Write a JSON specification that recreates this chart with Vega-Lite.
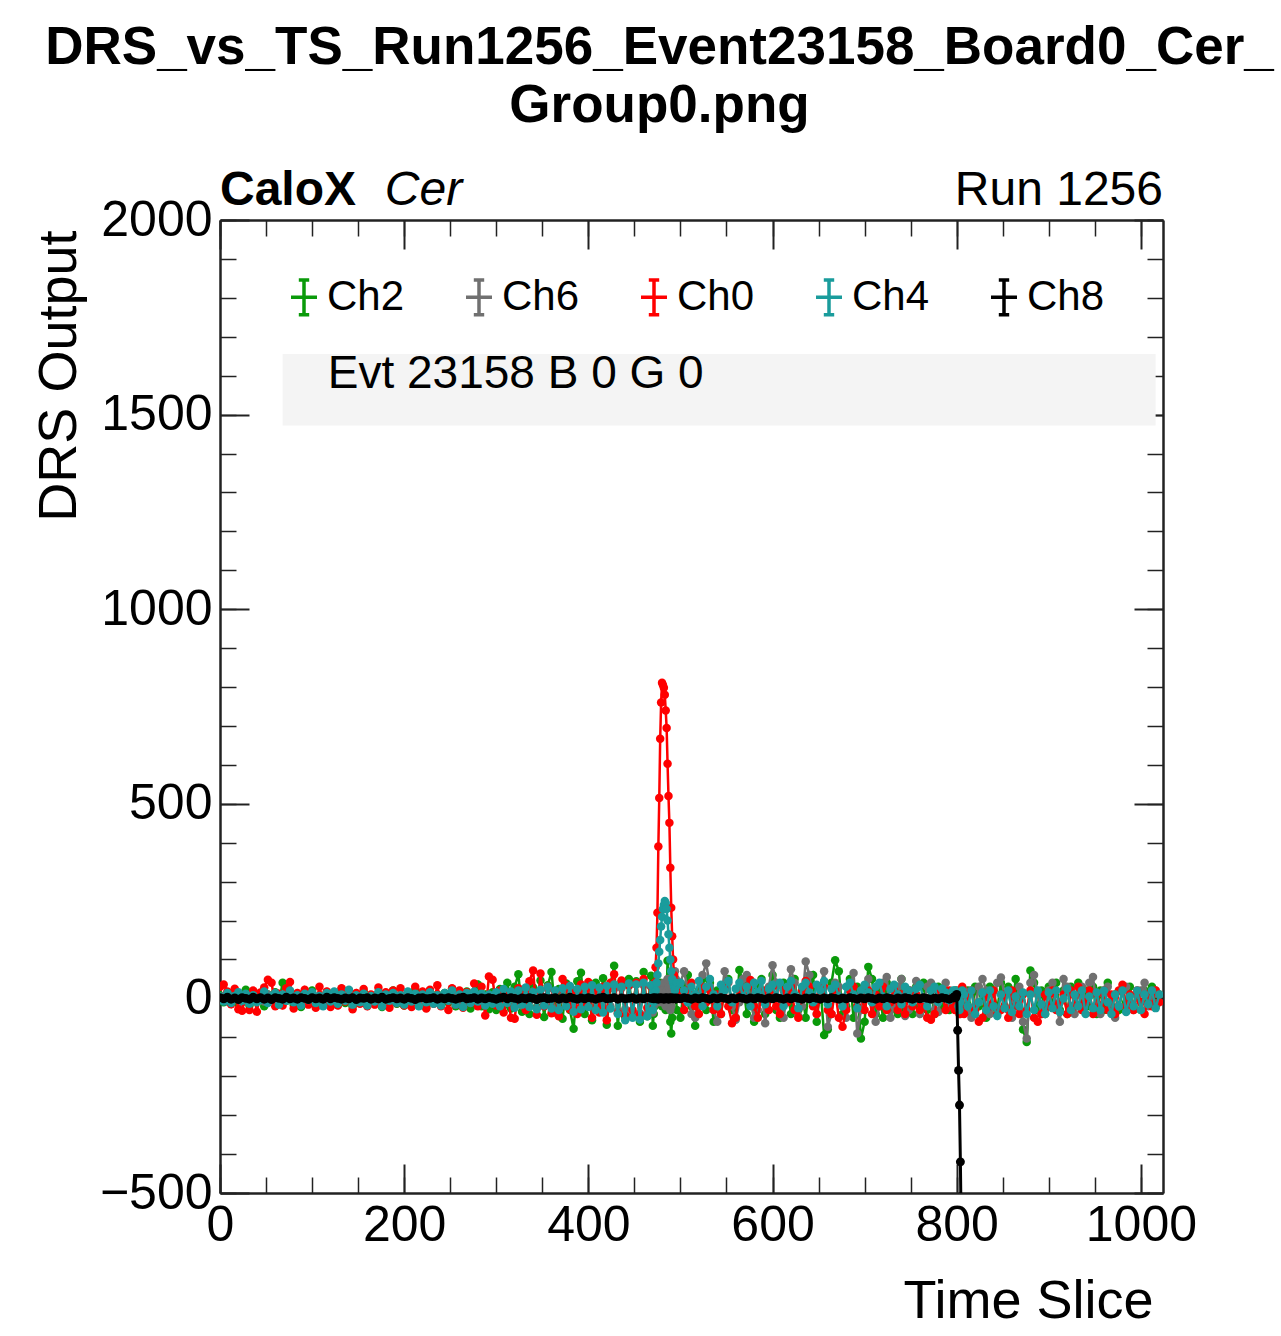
{
  "$schema": "https://vega.github.io/schema/vega-lite/v6.json",
  "autosize": {"type": "none"},
  "padding": {"left": 220, "top": 220, "right": 118, "bottom": 143},
  "width": 943,
  "height": 973,
  "background": "white",
  "config": {
    "font": "Liberation Sans",
    "view": {"stroke": null},
    "axis": {"grid": false, "labelFont": "Liberation Sans", "titleFont": "Liberation Sans", "labelColor": "black", "titleColor": "black", "tickColor": "#222", "domainColor": "#222", "labelOverlap": false, "labelFlush": false}
  },
  "title": {
    "text": ["DRS_vs_TS_Run1256_Event23158_Board0_Cer_", "Group0.png"],
    "fontSize": 53,
    "fontWeight": "bold",
    "font": "Liberation Sans",
    "color": "black",
    "anchor": "middle",
    "frame": "group",
    "lineHeight": 58,
    "dx": -32,
    "offset": 34
  },
  "datasets": {
    "wave": [
      {"t":0,"Ch2":8,"Ch6":-4,"Ch0":30,"Ch4":5,"Ch8":2},
      {"t":4,"Ch2":-10,"Ch6":6,"Ch0":36,"Ch4":-8,"Ch8":-1},
      {"t":8,"Ch2":12,"Ch6":-8,"Ch0":18,"Ch4":14,"Ch8":3},
      {"t":12,"Ch2":-6,"Ch6":10,"Ch0":-15,"Ch4":-12,"Ch8":-2},
      {"t":16,"Ch2":18,"Ch6":-2,"Ch0":25,"Ch4":6,"Ch8":1},
      {"t":20,"Ch2":-14,"Ch6":4,"Ch0":-28,"Ch4":16,"Ch8":-3},
      {"t":24,"Ch2":6,"Ch6":-10,"Ch0":-32,"Ch4":-6,"Ch8":2},
      {"t":28,"Ch2":22,"Ch6":8,"Ch0":10,"Ch4":12,"Ch8":0},
      {"t":32,"Ch2":-18,"Ch6":-6,"Ch0":-30,"Ch4":-14,"Ch8":-2},
      {"t":36,"Ch2":4,"Ch6":12,"Ch0":20,"Ch4":8,"Ch8":3},
      {"t":40,"Ch2":-8,"Ch6":-4,"Ch0":-34,"Ch4":-10,"Ch8":-1},
      {"t":44,"Ch2":14,"Ch6":6,"Ch0":15,"Ch4":-4,"Ch8":2},
      {"t":48,"Ch2":-20,"Ch6":-8,"Ch0":28,"Ch4":18,"Ch8":-2},
      {"t":52,"Ch2":10,"Ch6":10,"Ch0":48,"Ch4":-12,"Ch8":1},
      {"t":56,"Ch2":-4,"Ch6":-2,"Ch0":40,"Ch4":6,"Ch8":-3},
      {"t":60,"Ch2":16,"Ch6":4,"Ch0":-20,"Ch4":14,"Ch8":2},
      {"t":64,"Ch2":-12,"Ch6":-12,"Ch0":12,"Ch4":-16,"Ch8":0},
      {"t":68,"Ch2":40,"Ch6":8,"Ch0":-18,"Ch4":10,"Ch8":-2},
      {"t":72,"Ch2":-6,"Ch6":-6,"Ch0":26,"Ch4":-6,"Ch8":3},
      {"t":76,"Ch2":10,"Ch6":14,"Ch0":42,"Ch4":20,"Ch8":-1},
      {"t":80,"Ch2":-16,"Ch6":-4,"Ch0":-26,"Ch4":-10,"Ch8":1},
      {"t":84,"Ch2":6,"Ch6":6,"Ch0":14,"Ch4":8,"Ch8":-2},
      {"t":88,"Ch2":-22,"Ch6":-8,"Ch0":-12,"Ch4":-18,"Ch8":2},
      {"t":92,"Ch2":12,"Ch6":10,"Ch0":22,"Ch4":12,"Ch8":0},
      {"t":96,"Ch2":-8,"Ch6":-2,"Ch0":-16,"Ch4":-4,"Ch8":-3},
      {"t":100,"Ch2":20,"Ch6":6,"Ch0":8,"Ch4":16,"Ch8":2},
      {"t":104,"Ch2":-14,"Ch6":-10,"Ch0":-24,"Ch4":-12,"Ch8":-1},
      {"t":108,"Ch2":4,"Ch6":8,"Ch0":30,"Ch4":6,"Ch8":1},
      {"t":112,"Ch2":-10,"Ch6":-4,"Ch0":-10,"Ch4":-20,"Ch8":-2},
      {"t":116,"Ch2":16,"Ch6":12,"Ch0":18,"Ch4":14,"Ch8":3},
      {"t":120,"Ch2":-18,"Ch6":-6,"Ch0":-22,"Ch4":-8,"Ch8":-1},
      {"t":124,"Ch2":8,"Ch6":4,"Ch0":12,"Ch4":18,"Ch8":2},
      {"t":128,"Ch2":-6,"Ch6":-12,"Ch0":-18,"Ch4":-14,"Ch8":0},
      {"t":132,"Ch2":24,"Ch6":10,"Ch0":26,"Ch4":10,"Ch8":-2},
      {"t":136,"Ch2":-12,"Ch6":-2,"Ch0":-8,"Ch4":-6,"Ch8":1},
      {"t":140,"Ch2":6,"Ch6":6,"Ch0":20,"Ch4":22,"Ch8":-1},
      {"t":144,"Ch2":-20,"Ch6":-8,"Ch0":-28,"Ch4":-16,"Ch8":2},
      {"t":148,"Ch2":10,"Ch6":12,"Ch0":14,"Ch4":8,"Ch8":-3},
      {"t":152,"Ch2":-4,"Ch6":-4,"Ch0":-14,"Ch4":-10,"Ch8":1},
      {"t":156,"Ch2":18,"Ch6":8,"Ch0":24,"Ch4":12,"Ch8":0},
      {"t":160,"Ch2":-16,"Ch6":-10,"Ch0":-20,"Ch4":-18,"Ch8":2},
      {"t":164,"Ch2":8,"Ch6":4,"Ch0":10,"Ch4":6,"Ch8":-2},
      {"t":168,"Ch2":-10,"Ch6":-6,"Ch0":-16,"Ch4":-8,"Ch8":1},
      {"t":172,"Ch2":14,"Ch6":10,"Ch0":28,"Ch4":16,"Ch8":-1},
      {"t":176,"Ch2":-22,"Ch6":-2,"Ch0":-10,"Ch4":-20,"Ch8":3},
      {"t":180,"Ch2":6,"Ch6":8,"Ch0":16,"Ch4":10,"Ch8":-2},
      {"t":184,"Ch2":-8,"Ch6":-12,"Ch0":-24,"Ch4":-6,"Ch8":0},
      {"t":188,"Ch2":20,"Ch6":6,"Ch0":20,"Ch4":14,"Ch8":2},
      {"t":192,"Ch2":-14,"Ch6":-4,"Ch0":-12,"Ch4":-12,"Ch8":-1},
      {"t":196,"Ch2":4,"Ch6":10,"Ch0":26,"Ch4":8,"Ch8":1},
      {"t":200,"Ch2":-18,"Ch6":-8,"Ch0":-18,"Ch4":-16,"Ch8":-2},
      {"t":204,"Ch2":12,"Ch6":4,"Ch0":14,"Ch4":18,"Ch8":2},
      {"t":208,"Ch2":-6,"Ch6":-6,"Ch0":-22,"Ch4":-8,"Ch8":0},
      {"t":212,"Ch2":22,"Ch6":12,"Ch0":30,"Ch4":12,"Ch8":-3},
      {"t":216,"Ch2":-12,"Ch6":-10,"Ch0":-8,"Ch4":-20,"Ch8":1},
      {"t":220,"Ch2":8,"Ch6":6,"Ch0":18,"Ch4":10,"Ch8":2},
      {"t":224,"Ch2":-24,"Ch6":-2,"Ch0":-26,"Ch4":-10,"Ch8":-1},
      {"t":228,"Ch2":16,"Ch6":10,"Ch0":22,"Ch4":16,"Ch8":0},
      {"t":232,"Ch2":-8,"Ch6":-12,"Ch0":-14,"Ch4":-14,"Ch8":2},
      {"t":236,"Ch2":10,"Ch6":4,"Ch0":34,"Ch4":8,"Ch8":-2},
      {"t":240,"Ch2":-18,"Ch6":-6,"Ch0":-20,"Ch4":-18,"Ch8":1},
      {"t":244,"Ch2":14,"Ch6":8,"Ch0":12,"Ch4":14,"Ch8":-1},
      {"t":248,"Ch2":-10,"Ch6":-4,"Ch0":-30,"Ch4":-6,"Ch8":2},
      {"t":252,"Ch2":24,"Ch6":12,"Ch0":26,"Ch4":20,"Ch8":0},
      {"t":256,"Ch2":-20,"Ch6":-8,"Ch0":-16,"Ch4":-16,"Ch8":-2},
      {"t":260,"Ch2":6,"Ch6":6,"Ch0":20,"Ch4":10,"Ch8":1},
      {"t":264,"Ch2":-14,"Ch6":-10,"Ch0":-24,"Ch4":-22,"Ch8":3},
      {"t":268,"Ch2":18,"Ch6":4,"Ch0":16,"Ch4":14,"Ch8":-1},
      {"t":272,"Ch2":-26,"Ch6":-6,"Ch0":-12,"Ch4":-12,"Ch8":0},
      {"t":276,"Ch2":12,"Ch6":10,"Ch0":38,"Ch4":18,"Ch8":2},
      {"t":280,"Ch2":36,"Ch6":-8,"Ch0":-20,"Ch4":-8,"Ch8":-2},
      {"t":284,"Ch2":-20,"Ch6":6,"Ch0":30,"Ch4":12,"Ch8":1},
      {"t":288,"Ch2":10,"Ch6":-12,"Ch0":-44,"Ch4":-18,"Ch8":-1},
      {"t":292,"Ch2":-28,"Ch6":8,"Ch0":56,"Ch4":10,"Ch8":2},
      {"t":296,"Ch2":16,"Ch6":-4,"Ch0":48,"Ch4":-14,"Ch8":0},
      {"t":300,"Ch2":-30,"Ch6":12,"Ch0":-18,"Ch4":16,"Ch8":-2},
      {"t":304,"Ch2":24,"Ch6":-14,"Ch0":20,"Ch4":-20,"Ch8":1},
      {"t":308,"Ch2":-18,"Ch6":20,"Ch0":-36,"Ch4":24,"Ch8":3},
      {"t":312,"Ch2":40,"Ch6":-10,"Ch0":14,"Ch4":-12,"Ch8":-1},
      {"t":316,"Ch2":-26,"Ch6":16,"Ch0":-50,"Ch4":18,"Ch8":2},
      {"t":320,"Ch2":30,"Ch6":-20,"Ch0":-52,"Ch4":-24,"Ch8":0},
      {"t":324,"Ch2":62,"Ch6":14,"Ch0":26,"Ch4":20,"Ch8":-2},
      {"t":328,"Ch2":-34,"Ch6":-18,"Ch0":10,"Ch4":-16,"Ch8":1},
      {"t":332,"Ch2":20,"Ch6":22,"Ch0":-30,"Ch4":28,"Ch8":-1},
      {"t":336,"Ch2":-40,"Ch6":-8,"Ch0":44,"Ch4":-22,"Ch8":2},
      {"t":340,"Ch2":28,"Ch6":18,"Ch0":72,"Ch4":16,"Ch8":0},
      {"t":344,"Ch2":-22,"Ch6":-24,"Ch0":-42,"Ch4":-28,"Ch8":-3},
      {"t":348,"Ch2":46,"Ch6":10,"Ch0":64,"Ch4":22,"Ch8":1},
      {"t":352,"Ch2":-48,"Ch6":-14,"Ch0":-20,"Ch4":-18,"Ch8":2},
      {"t":356,"Ch2":34,"Ch6":24,"Ch0":30,"Ch4":30,"Ch8":-1},
      {"t":360,"Ch2":68,"Ch6":-20,"Ch0":-38,"Ch4":-26,"Ch8":0},
      {"t":364,"Ch2":-36,"Ch6":16,"Ch0":18,"Ch4":20,"Ch8":2},
      {"t":368,"Ch2":24,"Ch6":-28,"Ch0":-46,"Ch4":-30,"Ch8":-2},
      {"t":372,"Ch2":-52,"Ch6":20,"Ch0":50,"Ch4":26,"Ch8":1},
      {"t":376,"Ch2":38,"Ch6":-10,"Ch0":34,"Ch4":-20,"Ch8":-1},
      {"t":380,"Ch2":-30,"Ch6":26,"Ch0":-28,"Ch4":32,"Ch8":3},
      {"t":384,"Ch2":-78,"Ch6":-22,"Ch0":20,"Ch4":-34,"Ch8":0},
      {"t":388,"Ch2":44,"Ch6":14,"Ch0":-40,"Ch4":24,"Ch8":-2},
      {"t":392,"Ch2":66,"Ch6":-26,"Ch0":36,"Ch4":-28,"Ch8":1},
      {"t":396,"Ch2":-40,"Ch6":22,"Ch0":-18,"Ch4":30,"Ch8":-1},
      {"t":400,"Ch2":30,"Ch6":-16,"Ch0":42,"Ch4":-22,"Ch8":2},
      {"t":404,"Ch2":-56,"Ch6":28,"Ch0":-50,"Ch4":34,"Ch8":0},
      {"t":408,"Ch2":40,"Ch6":-30,"Ch0":24,"Ch4":-30,"Ch8":-2},
      {"t":412,"Ch2":-34,"Ch6":18,"Ch0":-36,"Ch4":28,"Ch8":1},
      {"t":416,"Ch2":52,"Ch6":-24,"Ch0":30,"Ch4":-36,"Ch8":3},
      {"t":420,"Ch2":-68,"Ch6":30,"Ch0":-56,"Ch4":32,"Ch8":-1},
      {"t":424,"Ch2":36,"Ch6":-20,"Ch0":40,"Ch4":-26,"Ch8":0},
      {"t":428,"Ch2":84,"Ch6":24,"Ch0":62,"Ch4":36,"Ch8":2},
      {"t":432,"Ch2":-70,"Ch6":-32,"Ch0":-38,"Ch4":-40,"Ch8":-2},
      {"t":436,"Ch2":42,"Ch6":26,"Ch0":46,"Ch4":30,"Ch8":1},
      {"t":440,"Ch2":-48,"Ch6":-28,"Ch0":-44,"Ch4":-56,"Ch8":-1},
      {"t":444,"Ch2":50,"Ch6":32,"Ch0":34,"Ch4":38,"Ch8":0},
      {"t":448,"Ch2":-38,"Ch6":-34,"Ch0":-30,"Ch4":-50,"Ch8":2},
      {"t":452,"Ch2":44,"Ch6":36,"Ch0":40,"Ch4":36,"Ch8":-2},
      {"t":456,"Ch2":-60,"Ch6":-38,"Ch0":-42,"Ch4":-54,"Ch8":1},
      {"t":460,"Ch2":68,"Ch6":34,"Ch0":50,"Ch4":40,"Ch8":-1},
      {"t":464,"Ch2":-46,"Ch6":-40,"Ch0":-24,"Ch4":-46,"Ch8":2},
      {"t":468,"Ch2":58,"Ch6":30,"Ch0":32,"Ch4":34,"Ch8":0},
      {"t":470,"Ch2":-70,"Ch6":-36,"Ch0":20,"Ch4":-30,"Ch8":1},
      {"t":471,"Ch2":-40,"Ch6":-20,"Ch0":25,"Ch4":-10,"Ch8":-1},
      {"t":472,"Ch2":-20,"Ch6":10,"Ch0":40,"Ch4":10,"Ch8":2},
      {"t":473,"Ch2":10,"Ch6":30,"Ch0":80,"Ch4":20,"Ch8":0},
      {"t":474,"Ch2":30,"Ch6":40,"Ch0":130,"Ch4":40,"Ch8":-1},
      {"t":475,"Ch2":20,"Ch6":20,"Ch0":220,"Ch4":60,"Ch8":1},
      {"t":476,"Ch2":-10,"Ch6":-10,"Ch0":390,"Ch4":90,"Ch8":-2},
      {"t":477,"Ch2":20,"Ch6":10,"Ch0":515,"Ch4":120,"Ch8":0},
      {"t":478,"Ch2":40,"Ch6":30,"Ch0":667,"Ch4":150,"Ch8":2},
      {"t":479,"Ch2":10,"Ch6":20,"Ch0":760,"Ch4":185,"Ch8":-1},
      {"t":480,"Ch2":-20,"Ch6":-10,"Ch0":811,"Ch4":210,"Ch8":1},
      {"t":481,"Ch2":10,"Ch6":20,"Ch0":805,"Ch4":230,"Ch8":0},
      {"t":482,"Ch2":30,"Ch6":40,"Ch0":798,"Ch4":240,"Ch8":-2},
      {"t":483,"Ch2":20,"Ch6":10,"Ch0":780,"Ch4":250,"Ch8":1},
      {"t":484,"Ch2":-30,"Ch6":-20,"Ch0":740,"Ch4":245,"Ch8":-1},
      {"t":485,"Ch2":10,"Ch6":20,"Ch0":695,"Ch4":230,"Ch8":2},
      {"t":486,"Ch2":97,"Ch6":50,"Ch0":603,"Ch4":200,"Ch8":0},
      {"t":487,"Ch2":40,"Ch6":30,"Ch0":520,"Ch4":165,"Ch8":-2},
      {"t":488,"Ch2":-20,"Ch6":10,"Ch0":451,"Ch4":130,"Ch8":1},
      {"t":489,"Ch2":-60,"Ch6":-30,"Ch0":336,"Ch4":100,"Ch8":-1},
      {"t":490,"Ch2":-90,"Ch6":-20,"Ch0":233,"Ch4":70,"Ch8":2},
      {"t":491,"Ch2":-50,"Ch6":10,"Ch0":160,"Ch4":50,"Ch8":0},
      {"t":492,"Ch2":20,"Ch6":40,"Ch0":100,"Ch4":40,"Ch8":-1},
      {"t":493,"Ch2":60,"Ch6":60,"Ch0":60,"Ch4":30,"Ch8":1},
      {"t":494,"Ch2":40,"Ch6":70,"Ch0":45,"Ch4":20,"Ch8":0},
      {"t":495,"Ch2":10,"Ch6":50,"Ch0":30,"Ch4":30,"Ch8":-2},
      {"t":496,"Ch2":-30,"Ch6":20,"Ch0":20,"Ch4":40,"Ch8":1},
      {"t":500,"Ch2":-50,"Ch6":40,"Ch0":10,"Ch4":40,"Ch8":-1},
      {"t":504,"Ch2":30,"Ch6":70,"Ch0":-30,"Ch4":20,"Ch8":2},
      {"t":508,"Ch2":60,"Ch6":20,"Ch0":20,"Ch4":-10,"Ch8":0},
      {"t":512,"Ch2":-20,"Ch6":-40,"Ch0":40,"Ch4":30,"Ch8":-2},
      {"t":516,"Ch2":-70,"Ch6":-50,"Ch0":-20,"Ch4":10,"Ch8":1},
      {"t":520,"Ch2":20,"Ch6":10,"Ch0":-40,"Ch4":45,"Ch8":-1},
      {"t":524,"Ch2":50,"Ch6":60,"Ch0":30,"Ch4":-20,"Ch8":2},
      {"t":528,"Ch2":-30,"Ch6":90,"Ch0":-10,"Ch4":30,"Ch8":0},
      {"t":532,"Ch2":40,"Ch6":30,"Ch0":20,"Ch4":50,"Ch8":-2},
      {"t":536,"Ch2":-60,"Ch6":-30,"Ch0":-30,"Ch4":10,"Ch8":1},
      {"t":540,"Ch2":20,"Ch6":-60,"Ch0":10,"Ch4":-20,"Ch8":-1},
      {"t":544,"Ch2":-40,"Ch6":0,"Ch0":-40,"Ch4":35,"Ch8":2},
      {"t":548,"Ch2":30,"Ch6":70,"Ch0":30,"Ch4":20,"Ch8":0},
      {"t":552,"Ch2":50,"Ch6":40,"Ch0":-20,"Ch4":45,"Ch8":-2},
      {"t":556,"Ch2":-30,"Ch6":-20,"Ch0":-64,"Ch4":-10,"Ch8":1},
      {"t":560,"Ch2":-50,"Ch6":-55,"Ch0":-50,"Ch4":25,"Ch8":-1},
      {"t":564,"Ch2":73,"Ch6":-10,"Ch0":20,"Ch4":40,"Ch8":2},
      {"t":568,"Ch2":40,"Ch6":50,"Ch0":10,"Ch4":5,"Ch8":0},
      {"t":572,"Ch2":-40,"Ch6":60,"Ch0":30,"Ch4":30,"Ch8":-2},
      {"t":576,"Ch2":20,"Ch6":0,"Ch0":47,"Ch4":-20,"Ch8":1},
      {"t":580,"Ch2":-60,"Ch6":-50,"Ch0":-20,"Ch4":40,"Ch8":-1},
      {"t":584,"Ch2":30,"Ch6":-30,"Ch0":-50,"Ch4":15,"Ch8":2},
      {"t":588,"Ch2":50,"Ch6":20,"Ch0":10,"Ch4":45,"Ch8":0},
      {"t":592,"Ch2":-40,"Ch6":-64,"Ch0":20,"Ch4":-15,"Ch8":-2},
      {"t":596,"Ch2":20,"Ch6":30,"Ch0":-30,"Ch4":25,"Ch8":1},
      {"t":600,"Ch2":60,"Ch6":85,"Ch0":30,"Ch4":35,"Ch8":-1},
      {"t":604,"Ch2":-30,"Ch6":40,"Ch0":-20,"Ch4":5,"Ch8":2},
      {"t":608,"Ch2":-50,"Ch6":-30,"Ch0":-40,"Ch4":40,"Ch8":0},
      {"t":612,"Ch2":40,"Ch6":-50,"Ch0":20,"Ch4":-20,"Ch8":-2},
      {"t":616,"Ch2":30,"Ch6":20,"Ch0":-10,"Ch4":30,"Ch8":1},
      {"t":620,"Ch2":-40,"Ch6":75,"Ch0":30,"Ch4":45,"Ch8":-1},
      {"t":624,"Ch2":50,"Ch6":40,"Ch0":-30,"Ch4":10,"Ch8":2},
      {"t":628,"Ch2":-30,"Ch6":-45,"Ch0":-50,"Ch4":-25,"Ch8":0},
      {"t":632,"Ch2":20,"Ch6":-20,"Ch0":20,"Ch4":30,"Ch8":-2},
      {"t":636,"Ch2":-50,"Ch6":95,"Ch0":45,"Ch4":40,"Ch8":1},
      {"t":640,"Ch2":40,"Ch6":60,"Ch0":30,"Ch4":15,"Ch8":-1},
      {"t":644,"Ch2":60,"Ch6":-10,"Ch0":-20,"Ch4":-10,"Ch8":2},
      {"t":648,"Ch2":-60,"Ch6":-40,"Ch0":-40,"Ch4":35,"Ch8":0},
      {"t":652,"Ch2":30,"Ch6":30,"Ch0":10,"Ch4":20,"Ch8":-2},
      {"t":656,"Ch2":-94,"Ch6":70,"Ch0":30,"Ch4":45,"Ch8":1},
      {"t":660,"Ch2":-80,"Ch6":-73,"Ch0":-30,"Ch4":-15,"Ch8":-1},
      {"t":664,"Ch2":40,"Ch6":-40,"Ch0":-40,"Ch4":25,"Ch8":2},
      {"t":668,"Ch2":98,"Ch6":40,"Ch0":20,"Ch4":35,"Ch8":0},
      {"t":672,"Ch2":70,"Ch6":30,"Ch0":-50,"Ch4":5,"Ch8":-2},
      {"t":676,"Ch2":-40,"Ch6":-20,"Ch0":-73,"Ch4":-20,"Ch8":1},
      {"t":680,"Ch2":-20,"Ch6":-50,"Ch0":-30,"Ch4":30,"Ch8":-1},
      {"t":684,"Ch2":50,"Ch6":20,"Ch0":20,"Ch4":40,"Ch8":2},
      {"t":688,"Ch2":-50,"Ch6":65,"Ch0":30,"Ch4":10,"Ch8":0},
      {"t":692,"Ch2":30,"Ch6":-90,"Ch0":-20,"Ch4":-25,"Ch8":-2},
      {"t":696,"Ch2":-103,"Ch6":-30,"Ch0":10,"Ch4":20,"Ch8":1},
      {"t":700,"Ch2":-60,"Ch6":30,"Ch0":-30,"Ch4":35,"Ch8":-1},
      {"t":704,"Ch2":81,"Ch6":50,"Ch0":20,"Ch4":15,"Ch8":2},
      {"t":708,"Ch2":50,"Ch6":-10,"Ch0":-40,"Ch4":-10,"Ch8":0},
      {"t":712,"Ch2":-40,"Ch6":-60,"Ch0":10,"Ch4":30,"Ch8":-2},
      {"t":716,"Ch2":20,"Ch6":-20,"Ch0":-20,"Ch4":40,"Ch8":1},
      {"t":720,"Ch2":-50,"Ch6":40,"Ch0":30,"Ch4":5,"Ch8":-1},
      {"t":724,"Ch2":40,"Ch6":55,"Ch0":-30,"Ch4":-20,"Ch8":2},
      {"t":728,"Ch2":-30,"Ch6":-50,"Ch0":-10,"Ch4":25,"Ch8":0},
      {"t":732,"Ch2":30,"Ch6":-20,"Ch0":20,"Ch4":35,"Ch8":-2},
      {"t":736,"Ch2":-40,"Ch6":30,"Ch0":-30,"Ch4":10,"Ch8":1},
      {"t":740,"Ch2":50,"Ch6":50,"Ch0":10,"Ch4":-15,"Ch8":-1},
      {"t":744,"Ch2":-30,"Ch6":-45,"Ch0":-40,"Ch4":30,"Ch8":2},
      {"t":748,"Ch2":20,"Ch6":-30,"Ch0":20,"Ch4":20,"Ch8":0},
      {"t":752,"Ch2":-40,"Ch6":20,"Ch0":-20,"Ch4":-10,"Ch8":-2},
      {"t":756,"Ch2":30,"Ch6":45,"Ch0":10,"Ch4":25,"Ch8":1},
      {"t":760,"Ch2":-20,"Ch6":-40,"Ch0":-30,"Ch4":35,"Ch8":-1},
      {"t":764,"Ch2":40,"Ch6":-20,"Ch0":-10,"Ch4":0,"Ch8":2},
      {"t":768,"Ch2":-30,"Ch6":30,"Ch0":-50,"Ch4":-20,"Ch8":0},
      {"t":772,"Ch2":20,"Ch6":40,"Ch0":-55,"Ch4":20,"Ch8":-2},
      {"t":776,"Ch2":-40,"Ch6":-30,"Ch0":-40,"Ch4":30,"Ch8":1},
      {"t":780,"Ch2":30,"Ch6":-35,"Ch0":20,"Ch4":-10,"Ch8":-1},
      {"t":784,"Ch2":-20,"Ch6":20,"Ch0":10,"Ch4":25,"Ch8":2},
      {"t":788,"Ch2":20,"Ch6":40,"Ch0":-30,"Ch4":15,"Ch8":0},
      {"t":792,"Ch2":-30,"Ch6":-20,"Ch0":20,"Ch4":-5,"Ch8":-2},
      {"t":796,"Ch2":10,"Ch6":-10,"Ch0":-20,"Ch4":20,"Ch8":1},
      {"t":797,"Ch2":-10,"Ch6":-20,"Ch0":-10,"Ch4":10,"Ch8":3},
      {"t":798,"Ch2":10,"Ch6":0,"Ch0":-30,"Ch4":20,"Ch8":5},
      {"t":799,"Ch2":20,"Ch6":10,"Ch0":-20,"Ch4":5,"Ch8":2},
      {"t":800,"Ch2":0,"Ch6":20,"Ch0":-10,"Ch4":10,"Ch8":10},
      {"t":801,"Ch2":-20,"Ch6":10,"Ch0":10,"Ch4":0,"Ch8":-82},
      {"t":802,"Ch2":-30,"Ch6":-10,"Ch0":-20,"Ch4":-20,"Ch8":-185},
      {"t":803,"Ch2":-10,"Ch6":-30,"Ch0":-40,"Ch4":-30,"Ch8":-274},
      {"t":804,"Ch2":20,"Ch6":-40,"Ch0":-20,"Ch4":-10,"Ch8":-420},
      {"t":805,"Ch2":10,"Ch6":-30,"Ch0":10,"Ch4":10,"Ch8":-620},
      {"t":806,"Ch2":-20,"Ch6":10,"Ch0":30,"Ch4":20,"Ch8":-900},
      {"t":808,"Ch2":-30,"Ch6":20,"Ch0":-40,"Ch4":10,"Ch8":-1000},
      {"t":812,"Ch2":20,"Ch6":-30,"Ch0":10,"Ch4":-20,"Ch8":-1000},
      {"t":816,"Ch2":-40,"Ch6":-50,"Ch0":20,"Ch4":20,"Ch8":-1000},
      {"t":820,"Ch2":30,"Ch6":-20,"Ch0":-30,"Ch4":-40,"Ch8":-1000},
      {"t":824,"Ch2":-20,"Ch6":30,"Ch0":-60,"Ch4":-10,"Ch8":-1000},
      {"t":828,"Ch2":10,"Ch6":50,"Ch0":-50,"Ch4":15,"Ch8":-1000},
      {"t":832,"Ch2":-50,"Ch6":20,"Ch0":10,"Ch4":-30,"Ch8":-1000},
      {"t":836,"Ch2":30,"Ch6":-40,"Ch0":-20,"Ch4":20,"Ch8":-1000},
      {"t":840,"Ch2":20,"Ch6":-20,"Ch0":20,"Ch4":-20,"Ch8":-1000},
      {"t":844,"Ch2":-30,"Ch6":40,"Ch0":-40,"Ch4":-45,"Ch8":-1000},
      {"t":848,"Ch2":40,"Ch6":54,"Ch0":-30,"Ch4":10,"Ch8":-1000},
      {"t":852,"Ch2":-20,"Ch6":10,"Ch0":10,"Ch4":-25,"Ch8":-1000},
      {"t":856,"Ch2":30,"Ch6":-30,"Ch0":-50,"Ch4":20,"Ch8":-1000},
      {"t":860,"Ch2":-40,"Ch6":-50,"Ch0":20,"Ch4":-35,"Ch8":-1000},
      {"t":864,"Ch2":50,"Ch6":-10,"Ch0":-20,"Ch4":5,"Ch8":-1000},
      {"t":868,"Ch2":20,"Ch6":30,"Ch0":-40,"Ch4":-20,"Ch8":-1000},
      {"t":872,"Ch2":-80,"Ch6":-60,"Ch0":10,"Ch4":15,"Ch8":-1000},
      {"t":876,"Ch2":-112,"Ch6":-103,"Ch0":-30,"Ch4":-40,"Ch8":-1000},
      {"t":880,"Ch2":72,"Ch6":40,"Ch0":20,"Ch4":10,"Ch8":-1000},
      {"t":884,"Ch2":40,"Ch6":60,"Ch0":-50,"Ch4":-30,"Ch8":-1000},
      {"t":888,"Ch2":-30,"Ch6":10,"Ch0":-60,"Ch4":20,"Ch8":-1000},
      {"t":892,"Ch2":20,"Ch6":-40,"Ch0":-40,"Ch4":-15,"Ch8":-1000},
      {"t":896,"Ch2":-40,"Ch6":-30,"Ch0":10,"Ch4":-40,"Ch8":-1000},
      {"t":900,"Ch2":30,"Ch6":20,"Ch0":-20,"Ch4":15,"Ch8":-1000},
      {"t":904,"Ch2":-20,"Ch6":40,"Ch0":20,"Ch4":-25,"Ch8":-1000},
      {"t":908,"Ch2":40,"Ch6":-20,"Ch0":-30,"Ch4":20,"Ch8":-1000},
      {"t":912,"Ch2":-30,"Ch6":-60,"Ch0":-10,"Ch4":-35,"Ch8":-1000},
      {"t":916,"Ch2":20,"Ch6":50,"Ch0":10,"Ch4":0,"Ch8":-1000},
      {"t":920,"Ch2":-40,"Ch6":30,"Ch0":-40,"Ch4":25,"Ch8":-1000},
      {"t":924,"Ch2":30,"Ch6":-20,"Ch0":20,"Ch4":-30,"Ch8":-1000},
      {"t":928,"Ch2":-20,"Ch6":-40,"Ch0":-20,"Ch4":10,"Ch8":-1000},
      {"t":932,"Ch2":40,"Ch6":10,"Ch0":30,"Ch4":-20,"Ch8":-1000},
      {"t":936,"Ch2":-30,"Ch6":30,"Ch0":-30,"Ch4":20,"Ch8":-1000},
      {"t":940,"Ch2":20,"Ch6":-10,"Ch0":-10,"Ch4":-40,"Ch8":-1000},
      {"t":944,"Ch2":-20,"Ch6":40,"Ch0":20,"Ch4":5,"Ch8":-1000},
      {"t":948,"Ch2":30,"Ch6":55,"Ch0":-40,"Ch4":-25,"Ch8":-1000},
      {"t":952,"Ch2":-40,"Ch6":-20,"Ch0":10,"Ch4":15,"Ch8":-1000},
      {"t":956,"Ch2":20,"Ch6":-40,"Ch0":-20,"Ch4":-30,"Ch8":-1000},
      {"t":960,"Ch2":-30,"Ch6":10,"Ch0":20,"Ch4":20,"Ch8":-1000},
      {"t":964,"Ch2":40,"Ch6":30,"Ch0":-30,"Ch4":-10,"Ch8":-1000},
      {"t":968,"Ch2":-20,"Ch6":-30,"Ch0":10,"Ch4":-40,"Ch8":-1000},
      {"t":972,"Ch2":10,"Ch6":-50,"Ch0":-40,"Ch4":10,"Ch8":-1000},
      {"t":976,"Ch2":-30,"Ch6":-20,"Ch0":20,"Ch4":-20,"Ch8":-1000},
      {"t":980,"Ch2":20,"Ch6":20,"Ch0":35,"Ch4":20,"Ch8":-1000},
      {"t":984,"Ch2":-10,"Ch6":30,"Ch0":-20,"Ch4":-35,"Ch8":-1000},
      {"t":988,"Ch2":30,"Ch6":-10,"Ch0":10,"Ch4":5,"Ch8":-1000},
      {"t":992,"Ch2":-20,"Ch6":-30,"Ch0":-30,"Ch4":-20,"Ch8":-1000},
      {"t":996,"Ch2":10,"Ch6":10,"Ch0":20,"Ch4":20,"Ch8":-1000},
      {"t":1000,"Ch2":-30,"Ch6":20,"Ch0":-10,"Ch4":-30,"Ch8":-1000},
      {"t":1004,"Ch2":20,"Ch6":40,"Ch0":-40,"Ch4":10,"Ch8":-1000},
      {"t":1008,"Ch2":-10,"Ch6":-20,"Ch0":10,"Ch4":-15,"Ch8":-1000},
      {"t":1012,"Ch2":30,"Ch6":-10,"Ch0":-20,"Ch4":20,"Ch8":-1000},
      {"t":1016,"Ch2":-20,"Ch6":20,"Ch0":20,"Ch4":-25,"Ch8":-1000},
      {"t":1020,"Ch2":10,"Ch6":10,"Ch0":-10,"Ch4":10,"Ch8":-1000}
    ]
  },
  "layer": [
    {
      "data": {"values": [{}]},
      "mark": {"type": "rect", "fill": "#f4f4f4"},
      "encoding": {
        "x": {"datum": 68, "type": "quantitative", "scale": {"domain": [0, 1024], "nice": false, "zero": false}, "axis": null},
        "x2": {"datum": 1016},
        "y": {"datum": 1472, "type": "quantitative", "scale": {"domain": [-500, 2000], "nice": false, "zero": false}, "axis": null},
        "y2": {"datum": 1656}
      }
    },
    {
      "data": {"name": "wave"},
      "transform": [{"fold": ["Ch2"], "as": ["channel", "value"]}],
      "mark": {"type": "line", "strokeWidth": 2.5, "clip": true, "point": {"filled": true, "size": 72, "clip": true}},
      "encoding": {
        "x": {"field": "t", "type": "quantitative", "scale": {"domain": [0, 1024], "nice": false, "zero": false},
              "axis": {"orient": "bottom", "values": [0, 200, 400, 600, 800, 1000], "tickSize": -29, "tickWidth": 2, "domainWidth": 2.5, "labelFontSize": 50, "labelPadding": 36, "format": "d", "title": "Time Slice", "titleFontSize": 54, "titleFontWeight": "normal", "titleAnchor": "end", "titleAlign": "right", "titleX": 933, "titlePadding": 24}},
        "y": {"field": "value", "type": "quantitative", "scale": {"domain": [-500, 2000], "nice": false, "zero": false},
              "axis": {"orient": "left", "values": [-500, 0, 500, 1000, 1500, 2000], "tickSize": -29, "tickWidth": 2, "domainWidth": 2.5, "labelFontSize": 50, "labelPadding": 37, "format": "d", "title": "DRS Output", "titleFontSize": 54, "titleFontWeight": "normal", "titleAnchor": "end", "titleAlign": "right", "titleY": 10, "titlePadding": 13}},
        "color": {"field": "channel", "type": "nominal",
                  "scale": {"domain": ["Ch2", "Ch6", "Ch0", "Ch4", "Ch8"], "range": ["#0a9a0a", "#707070", "#ff0000", "#1a9c9c", "#000000"]},
                  "legend": {"title": null, "orient": "none", "legendX": 63, "legendY": 56, "direction": "horizontal", "columns": 5, "columnPadding": 53, "padding": 0, "symbolType": "M-0.75,0H0.75M0,-1V1M-0.3,-1H0.3M-0.3,1H0.3", "symbolSize": 1200, "symbolStrokeWidth": 3.5, "symbolFillColor": "transparent", "labelFontSize": 42, "labelOffset": 2, "labelFont": "Liberation Sans", "labelColor": "black"}}
      }
    },
    {
      "data": {"name": "wave"},
      "transform": [{"fold": ["Ch6"], "as": ["channel", "value"]}],
      "mark": {"type": "line", "strokeWidth": 2.5, "clip": true, "point": {"filled": true, "size": 72, "clip": true}},
      "encoding": {
        "x": {"field": "t", "type": "quantitative", "scale": {"domain": [0, 1024], "nice": false, "zero": false},
              "axis": {"orient": "bottom", "values": [0,50,100,150,200,250,300,350,400,450,500,550,600,650,700,750,800,850,900,950,1000], "tickSize": -16, "tickWidth": 1.5, "domain": false, "labels": false, "title": null}},
        "y": {"field": "value", "type": "quantitative", "scale": {"domain": [-500, 2000], "nice": false, "zero": false},
              "axis": {"orient": "left", "values": [-500,-400,-300,-200,-100,0,100,200,300,400,500,600,700,800,900,1000,1100,1200,1300,1400,1500,1600,1700,1800,1900,2000], "tickSize": -16, "tickWidth": 1.5, "domain": false, "labels": false, "title": null}},
        "color": {"field": "channel", "type": "nominal",
                  "scale": {"domain": ["Ch2", "Ch6", "Ch0", "Ch4", "Ch8"], "range": ["#0a9a0a", "#707070", "#ff0000", "#1a9c9c", "#000000"]},
                  "legend": {"title": null, "orient": "none", "legendX": 63, "legendY": 56, "direction": "horizontal", "columns": 5, "columnPadding": 53, "padding": 0, "symbolType": "M-0.75,0H0.75M0,-1V1M-0.3,-1H0.3M-0.3,1H0.3", "symbolSize": 1200, "symbolStrokeWidth": 3.5, "symbolFillColor": "transparent", "labelFontSize": 42, "labelOffset": 2, "labelFont": "Liberation Sans", "labelColor": "black"}}
      }
    },
    {
      "data": {"name": "wave"},
      "transform": [{"fold": ["Ch0"], "as": ["channel", "value"]}],
      "mark": {"type": "line", "strokeWidth": 2.5, "clip": true, "point": {"filled": true, "size": 72, "clip": true}},
      "encoding": {
        "x": {"field": "t", "type": "quantitative", "scale": {"domain": [0, 1024], "nice": false, "zero": false},
              "axis": {"orient": "top", "values": [0, 200, 400, 600, 800, 1000], "tickSize": -29, "tickWidth": 2, "domainWidth": 2.5, "labels": false, "title": null}},
        "y": {"field": "value", "type": "quantitative", "scale": {"domain": [-500, 2000], "nice": false, "zero": false},
              "axis": {"orient": "right", "values": [-500, 0, 500, 1000, 1500, 2000], "tickSize": -29, "tickWidth": 2, "domainWidth": 2.5, "labels": false, "title": null}},
        "color": {"field": "channel", "type": "nominal",
                  "scale": {"domain": ["Ch2", "Ch6", "Ch0", "Ch4", "Ch8"], "range": ["#0a9a0a", "#707070", "#ff0000", "#1a9c9c", "#000000"]},
                  "legend": {"title": null, "orient": "none", "legendX": 63, "legendY": 56, "direction": "horizontal", "columns": 5, "columnPadding": 53, "padding": 0, "symbolType": "M-0.75,0H0.75M0,-1V1M-0.3,-1H0.3M-0.3,1H0.3", "symbolSize": 1200, "symbolStrokeWidth": 3.5, "symbolFillColor": "transparent", "labelFontSize": 42, "labelOffset": 2, "labelFont": "Liberation Sans", "labelColor": "black"}}
      }
    },
    {
      "data": {"name": "wave"},
      "transform": [{"fold": ["Ch4"], "as": ["channel", "value"]}],
      "mark": {"type": "line", "strokeWidth": 2.5, "clip": true, "point": {"filled": true, "size": 72, "clip": true}},
      "encoding": {
        "x": {"field": "t", "type": "quantitative", "scale": {"domain": [0, 1024], "nice": false, "zero": false},
              "axis": {"orient": "top", "values": [0,50,100,150,200,250,300,350,400,450,500,550,600,650,700,750,800,850,900,950,1000], "tickSize": -16, "tickWidth": 1.5, "domain": false, "labels": false, "title": null}},
        "y": {"field": "value", "type": "quantitative", "scale": {"domain": [-500, 2000], "nice": false, "zero": false},
              "axis": {"orient": "right", "values": [-500,-400,-300,-200,-100,0,100,200,300,400,500,600,700,800,900,1000,1100,1200,1300,1400,1500,1600,1700,1800,1900,2000], "tickSize": -16, "tickWidth": 1.5, "domain": false, "labels": false, "title": null}},
        "color": {"field": "channel", "type": "nominal",
                  "scale": {"domain": ["Ch2", "Ch6", "Ch0", "Ch4", "Ch8"], "range": ["#0a9a0a", "#707070", "#ff0000", "#1a9c9c", "#000000"]},
                  "legend": {"title": null, "orient": "none", "legendX": 63, "legendY": 56, "direction": "horizontal", "columns": 5, "columnPadding": 53, "padding": 0, "symbolType": "M-0.75,0H0.75M0,-1V1M-0.3,-1H0.3M-0.3,1H0.3", "symbolSize": 1200, "symbolStrokeWidth": 3.5, "symbolFillColor": "transparent", "labelFontSize": 42, "labelOffset": 2, "labelFont": "Liberation Sans", "labelColor": "black"}}
      }
    },
    {
      "data": {"name": "wave"},
      "transform": [{"fold": ["Ch8"], "as": ["channel", "value"]}],
      "mark": {"type": "line", "strokeWidth": 3, "clip": true, "point": {"filled": true, "size": 80, "clip": true}},
      "encoding": {
        "x": {"field": "t", "type": "quantitative", "scale": {"domain": [0, 1024], "nice": false, "zero": false}, "axis": null},
        "y": {"field": "value", "type": "quantitative", "scale": {"domain": [-500, 2000], "nice": false, "zero": false}, "axis": null},
        "color": {"field": "channel", "type": "nominal",
                  "scale": {"domain": ["Ch2", "Ch6", "Ch0", "Ch4", "Ch8"], "range": ["#0a9a0a", "#707070", "#ff0000", "#1a9c9c", "#000000"]},
                  "legend": {"title": null, "orient": "none", "legendX": 63, "legendY": 56, "direction": "horizontal", "columns": 5, "columnPadding": 53, "padding": 0, "symbolType": "M-0.75,0H0.75M0,-1V1M-0.3,-1H0.3M-0.3,1H0.3", "symbolSize": 1200, "symbolStrokeWidth": 3.5, "symbolFillColor": "transparent", "labelFontSize": 42, "labelOffset": 2, "labelFont": "Liberation Sans", "labelColor": "black"}}
      }
    },
    {
      "data": {"values": [{}]},
      "mark": {"type": "text", "text": "Evt 23158 B 0 G 0", "align": "left", "baseline": "middle", "fontSize": 46, "font": "Liberation Sans", "color": "black"},
      "encoding": {
        "x": {"datum": 117, "type": "quantitative", "scale": {"domain": [0, 1024], "nice": false, "zero": false}, "axis": null},
        "y": {"datum": 1605, "type": "quantitative", "scale": {"domain": [-500, 2000], "nice": false, "zero": false}, "axis": null}
      }
    },
    {
      "data": {"values": [{}]},
      "mark": {"type": "text", "text": "CaloX", "align": "left", "baseline": "alphabetic", "dy": -15, "fontSize": 48, "fontWeight": "bold", "font": "Liberation Sans", "color": "black"},
      "encoding": {
        "x": {"datum": 0, "type": "quantitative", "scale": {"domain": [0, 1024], "nice": false, "zero": false}, "axis": null},
        "y": {"datum": 2000, "type": "quantitative", "scale": {"domain": [-500, 2000], "nice": false, "zero": false}, "axis": null}
      }
    },
    {
      "data": {"values": [{}]},
      "mark": {"type": "text", "text": "Cer", "align": "left", "baseline": "alphabetic", "dy": -15, "fontSize": 48, "fontStyle": "italic", "font": "Liberation Sans", "color": "black"},
      "encoding": {
        "x": {"datum": 179, "type": "quantitative", "scale": {"domain": [0, 1024], "nice": false, "zero": false}, "axis": null},
        "y": {"datum": 2000, "type": "quantitative", "scale": {"domain": [-500, 2000], "nice": false, "zero": false}, "axis": null}
      }
    },
    {
      "data": {"values": [{}]},
      "mark": {"type": "text", "text": "Run 1256", "align": "right", "baseline": "alphabetic", "dy": -15, "fontSize": 48, "font": "Liberation Sans", "color": "black"},
      "encoding": {
        "x": {"datum": 1024, "type": "quantitative", "scale": {"domain": [0, 1024], "nice": false, "zero": false}, "axis": null},
        "y": {"datum": 2000, "type": "quantitative", "scale": {"domain": [-500, 2000], "nice": false, "zero": false}, "axis": null}
      }
    }
  ],
  "resolve": {"axis": {"x": "independent", "y": "independent"}}
}
